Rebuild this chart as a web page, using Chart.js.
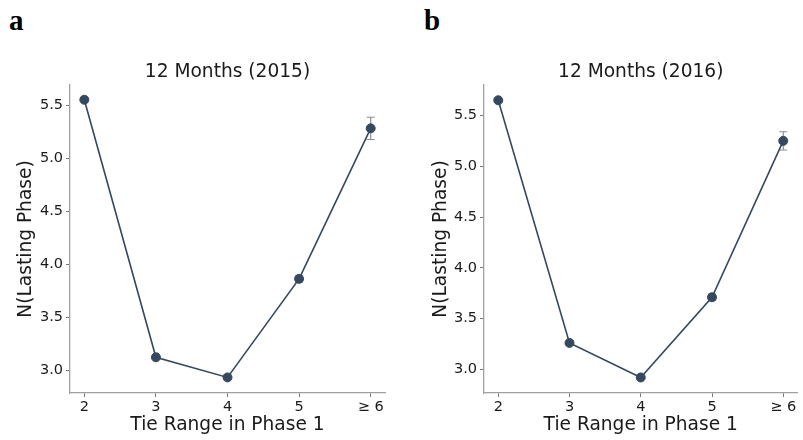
<!DOCTYPE html>
<html>
<head>
<meta charset="utf-8">
<script src="https://cdn.jsdelivr.net/npm/chart.js@4.4.1/dist/chart.umd.min.js"></script>
<style>
  html, body { margin: 0; padding: 0; background: #fff; }
  #wrap { position: relative; width: 803px; height: 440px; overflow: hidden; }
  canvas { position: absolute; top: 0; }
  .panel { position: absolute; font-family: "Liberation Serif", "DejaVu Serif", serif; font-weight: bold; font-size: 29px; color: #000; line-height: 1; }
</style>
</head>
<body>
<div id="wrap">
  <div class="panel" style="left:9px; top:6px;">a</div>
  <div class="panel" style="left:424px; top:6px;">b</div>
  <canvas id="c1" width="400" height="440" style="left:0;"></canvas>
  <canvas id="c2" width="403" height="440" style="left:400px;"></canvas>
</div>
<script>
// Tie range categories on the x axis
const categories = ['2', '3', '4', '5', '\u2265 6'];

// Mean number of lasting-phase ties, 2015 cohort
const values2015 = [5.55, 3.12, 2.93, 3.86, 5.28];
const errors2015 = [0.0, 0.01, 0.01, 0.03, 0.105];

// Mean number of lasting-phase ties, 2016 cohort
const values2016 = [5.65, 3.26, 2.92, 3.71, 5.25];
const errors2016 = [0.0, 0.01, 0.01, 0.03, 0.09];

const titles = ['12 Months (2015)', '12 Months (2016)'];
const xTitle = 'Tie Range in Phase 1';
const yTitle = 'N(Lasting Phase)';

const LINE = '#34495e';
const TEXT = '#1a1a1a';
const SPINE = '#a0a0a0';
const FONT = '"DejaVu Sans", sans-serif';

// Draws vertical error bars with caps beneath the line and markers
const errorBars = {
  id: 'errorBars',
  beforeDatasetsDraw(chart, args, opts) {
    const { ctx, scales: { x, y } } = chart;
    const errs = opts.errors || [];
    const data = chart.data.datasets[0].data;
    ctx.save();
    ctx.strokeStyle = '#8a9099';
    ctx.lineWidth = 1.2;
    data.forEach((p, i) => {
      const e = errs[i];
      if (!e) return;
      const px = x.getPixelForValue(p.x);
      const top = y.getPixelForValue(p.y + e);
      const bot = y.getPixelForValue(p.y - e);
      ctx.beginPath();
      ctx.moveTo(px, top); ctx.lineTo(px, bot);
      ctx.moveTo(px - 4, top); ctx.lineTo(px + 4, top);
      ctx.moveTo(px - 4, bot); ctx.lineTo(px + 4, bot);
      ctx.stroke();
    });
    ctx.restore();
  }
};

function makeChart(id, vals, errs, title, cfg) {
  const points = vals.map((v, i) => ({ x: i, y: v }));
  return new Chart(document.getElementById(id), {
    type: 'line',
    data: {
      datasets: [{
        data: points,
        borderColor: LINE,
        backgroundColor: LINE,
        borderWidth: 1.6,
        pointRadius: 4.5,
        pointBackgroundColor: LINE,
        pointBorderColor: LINE,
        pointBorderWidth: 1,
        tension: 0
      }]
    },
    plugins: [errorBars],
    options: {
      responsive: false,
      animation: false,
      devicePixelRatio: 1,
      layout: { padding: { left: 0, right: cfg.right, top: 0, bottom: 0 } },
      plugins: {
        legend: { display: false },
        tooltip: { enabled: false },
        errorBars: { errors: errs },
        title: {
          display: true,
          text: title,
          fullSize: false,
          color: TEXT,
          font: { family: FONT, size: 18.6, weight: 'normal', lineHeight: 1.2 },
          padding: { top: 61, bottom: 1.7 }
        }
      },
      scales: {
        x: {
          type: 'linear',
          min: -0.2,
          max: 4.2,
          afterFit(s) { s.height = 47; },
          border: { display: true, color: SPINE, width: 1.3 },
          grid: { display: true, drawOnChartArea: false, drawTicks: true, tickLength: 4, color: '#777' },
          ticks: {
            stepSize: 1,
            includeBounds: false,
            autoSkip: false,
            maxRotation: 0,
            padding: 2,
            color: TEXT,
            font: { family: FONT, size: 14.5 },
            callback: (v) => categories[v] !== undefined && Number.isInteger(v) ? categories[v] : ''
          },
          title: {
            display: true,
            text: xTitle,
            color: TEXT,
            font: { family: FONT, size: 18.6, lineHeight: 1.2 },
            padding: { top: 0, bottom: 3.8 }
          }
        },
        y: {
          type: 'linear',
          min: cfg.ymin,
          max: cfg.ymax,
          afterFit(s) { s.width = cfg.left; },
          border: { display: true, color: SPINE, width: 1.3 },
          grid: { display: true, drawOnChartArea: false, drawTicks: true, tickLength: 4, color: '#777' },
          ticks: {
            stepSize: 0.5,
            includeBounds: false,
            padding: 3,
            color: TEXT,
            font: { family: FONT, size: 14.5 },
            callback: (v) => v.toFixed(1)
          },
          title: {
            display: true,
            text: yTitle,
            color: TEXT,
            font: { family: FONT, size: 18.6, lineHeight: 1.2 },
            padding: { top: cfg.ytitlePad, bottom: 0 }
          }
        }
      }
    }
  });
}

makeChart('c1', values2015, errors2015, titles[0], { left: 70, right: 15, ymin: 2.783, ymax: 5.689, ytitlePad: 15.3 });
makeChart('c2', values2016, errors2016, titles[1], { left: 84, right: 4, ymin: 2.767, ymax: 5.80, ytitlePad: 30.5 });
</script>
</body>
</html>
